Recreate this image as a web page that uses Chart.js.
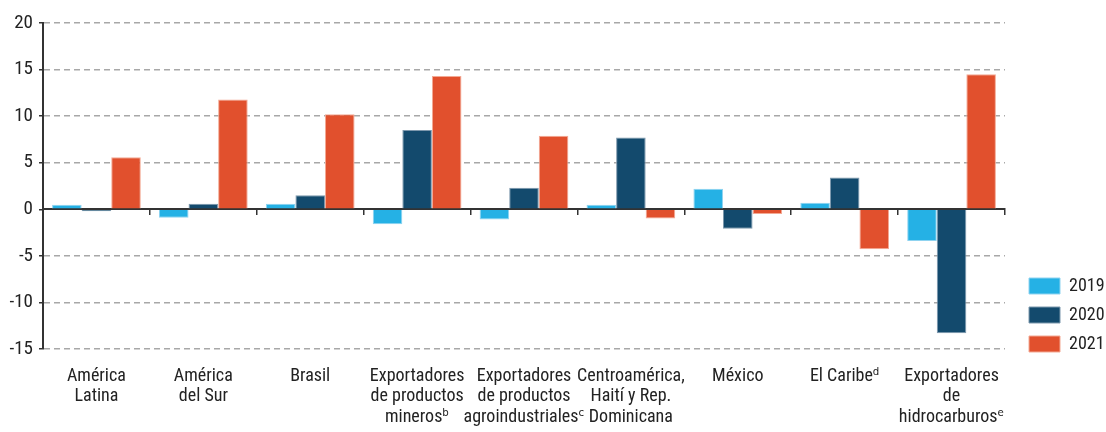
<!DOCTYPE html>
<html>
<head>
<meta charset="utf-8">
<script src="https://cdn.jsdelivr.net/npm/chart.js@4/dist/chart.umd.min.js"></script>
<style>
  body { margin: 0; background: #fff; }
  #wrap { width: 1106px; height: 432px; }
</style>
</head>
<body>
<div id="wrap"><canvas id="chart" width="1106" height="432"></canvas></div>
<script>
const categories = [
  ['América', 'Latina'],
  ['América', 'del Sur'],
  'Brasil',
  ['Exportadores', 'de productos', 'minerosᵇ'],
  ['Exportadores', 'de productos', 'agroindustrialesᶜ'],
  ['Centroamérica,', 'Haití y Rep.', 'Dominicana'],
  'México',
  'El Caribeᵈ',
  ['Exportadores', 'de', 'hidrocarburosᵉ']
];
const years = ['2019', '2020', '2021'];
const values2019 = [0.5, -0.9, 0.6, -1.6, -1.1, 0.5, 2.2, 0.7, -3.4];
const values2020 = [-0.2, 0.6, 1.5, 8.5, 2.3, 7.7, -2.1, 3.4, -13.3];
const values2021 = [5.6, 11.8, 10.2, 14.3, 7.9, -1.0, -0.5, -4.3, 14.5];
const yTicks = [-15, -10, -5, 0, 5, 10, 15, 20];

const FONT = '"Roboto Condensed", "Liberation Sans Narrow", "DejaVu Sans Condensed", sans-serif';
const TXT = '#222';

const ctx = document.getElementById('chart').getContext('2d');
new Chart(ctx, {
  type: 'bar',
  data: {
    labels: categories,
    datasets: [
      { label: years[0], data: values2019, backgroundColor: '#25b1e5', borderColor: '#8fd3f0', borderWidth: 1 },
      { label: years[1], data: values2020, backgroundColor: '#134a6d', borderColor: '#7d98ad', borderWidth: 1 },
      { label: years[2], data: values2021, backgroundColor: '#e1502d', borderColor: '#f3a994', borderWidth: 1 }
    ]
  },
  options: {
    responsive: false,
    devicePixelRatio: 1,
    animation: false,
    layout: { padding: { top: 23, right: 0, bottom: 0, left: 0 } },
    datasets: { bar: { barPercentage: 1, categoryPercentage: 0.83 } },
    plugins: {
      tooltip: { enabled: false },
      legend: {
        position: 'right',
        align: 'start',
        maxWidth: 88,
        // empty title only pushes the entries down next to the lower bars
        title: { display: true, text: '', font: { size: 10, lineHeight: 1 }, padding: { top: 0, bottom: 233 } },
        labels: {
          boxWidth: 31, boxHeight: 16, padding: 11,
          color: TXT, font: { family: FONT, size: 18 }
        }
      }
    },
    scales: {
      x: {
        offset: true,
        afterFit: s => { s.height = 83; },
        grid: { display: false },
        border: { display: false },
        ticks: {
          color: TXT, font: { family: FONT, size: 18, lineHeight: 1.14 },
          padding: 9, maxRotation: 0, autoSkip: false
        }
      },
      xz: {
        type: 'category',
        axis: 'x',
        position: { y: 0 },
        offset: true,
        afterFit: s => { s.height = 0; },
        grid: { drawOnChartArea: false, offset: true, tickLength: 5, tickColor: '#333', lineWidth: 1.5 },
        border: { display: true, color: '#333', width: 2 },
        ticks: { display: false }
      },
      y: {
        min: -15, max: 20,
        afterBuildTicks: s => { s.ticks = yTicks.map(v => ({ value: v })); },
        afterFit: s => { s.width = 43; },
        ticks: { color: TXT, font: { family: FONT, size: 19 }, padding: 6 },
        grid: {
          color: c => (c.tick && c.tick.value === 0) ? 'rgba(0,0,0,0)' : '#a8a8a8',
          lineWidth: 1.5, tickLength: 4, tickColor: '#333'
        },
        border: { display: true, color: '#333', width: 2, dash: [6, 4] }
      },
      gap: {
        type: 'linear',
        position: 'right',
        afterFit: s => { s.width = 13; },
        grid: { display: false },
        border: { display: false },
        ticks: { display: false }
      }
    }
  }
});
</script>
</body>
</html>
